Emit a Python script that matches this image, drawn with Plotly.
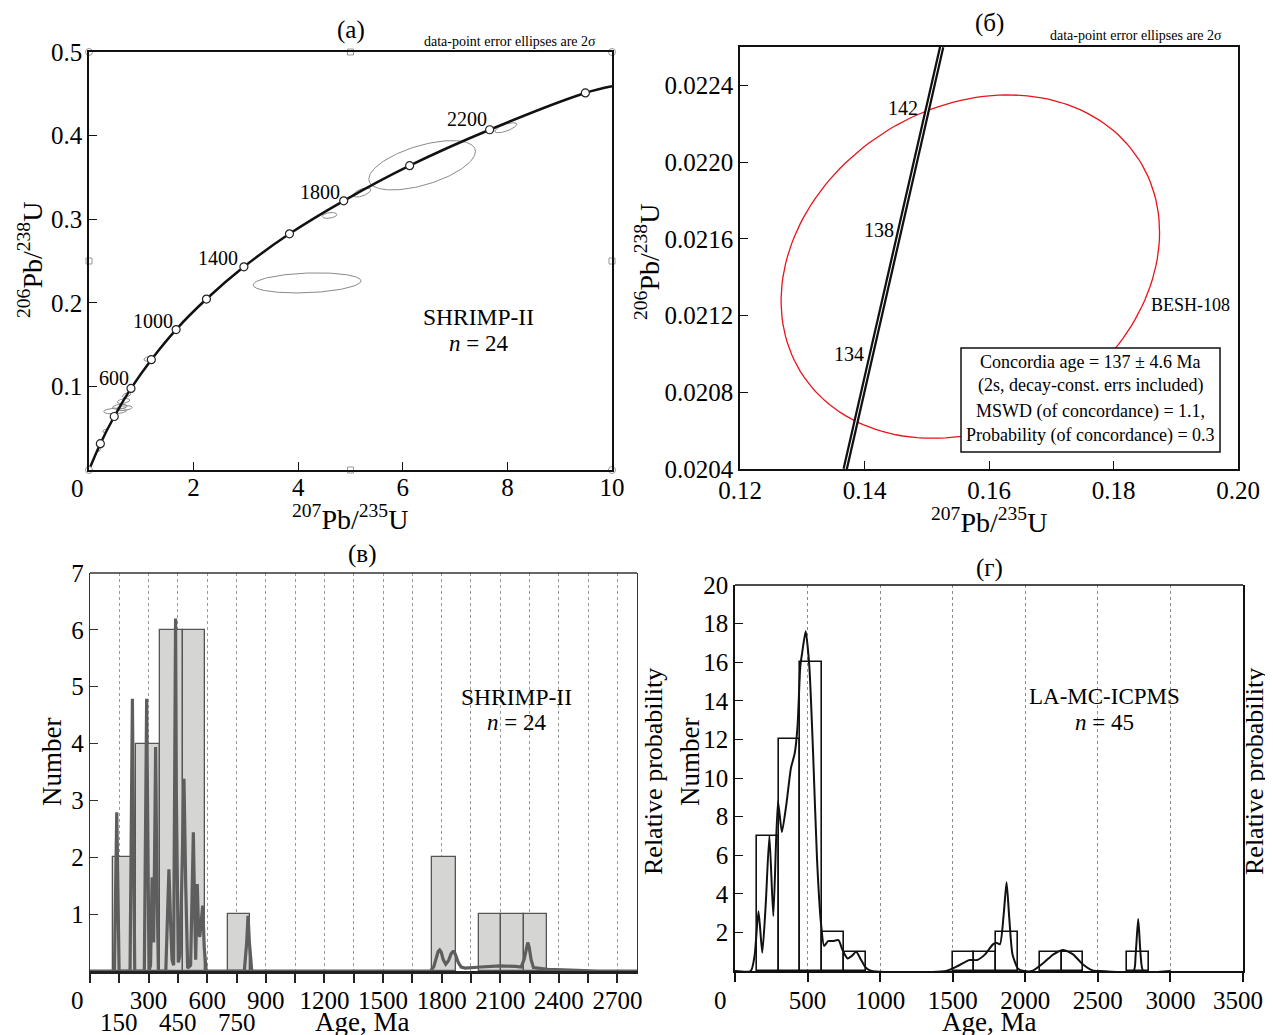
import numpy as np
import plotly.graph_objects as go

FONT = "Liberation Serif"
PAGE_OFF = 8            # browser default body margin
W, H = 1273 - 2 * PAGE_OFF, 1035 - PAGE_OFF

# ---------------- Panel (a): concordia SHRIMP-II ----------------
conc_a_x = [0.0, 0.217, 0.483, 0.803, 1.192, 1.666, 2.246, 2.962, 3.833, 4.87, 6.13, 7.66, 9.49, 10.0]
conc_a_y = [0.0, 0.0315, 0.064, 0.0976, 0.132, 0.168, 0.2045, 0.243, 0.2825, 0.322, 0.364, 0.407, 0.451, 0.459]
mark_a_x = [0.217, 0.483, 0.803, 1.192, 1.666, 2.246, 2.962, 3.833, 4.87, 6.13, 7.66, 9.49]
mark_a_y = [0.0315, 0.064, 0.0976, 0.132, 0.168, 0.2045, 0.243, 0.2825, 0.322, 0.364, 0.407, 0.451]
age_lbl_a = ["600", "1000", "1400", "1800", "2200"]
age_lbl_a_x = [0.48, 1.22, 2.47, 4.42, 7.23]
age_lbl_a_y = [0.110, 0.178, 0.254, 0.333, 0.420]

# ellipses: centre x, 2s x, centre y, 2s y, rho
ell_a_cx = [6.37, 4.17, 7.97, 5.22, 4.60, 1.15, 0.50, 0.59, 0.66, 0.72, 0.675, 0.31, 0.20]
ell_a_sx = [1.02, 1.03, 0.21, 0.17, 0.14, 0.10, 0.22, 0.14, 0.12, 0.08, 0.15, 0.05, 0.03]
ell_a_cy = [0.3645, 0.2238, 0.4094, 0.332, 0.3045, 0.133, 0.0706, 0.0757, 0.0825, 0.0897, 0.074, 0.047, 0.025]
ell_a_sy = [0.0295, 0.012, 0.006, 0.0055, 0.0035, 0.003, 0.0035, 0.003, 0.003, 0.003, 0.003, 0.002, 0.003]
ell_a_rho = [0.56, 0.2, 0.7, 0.6, 0.3, 0.3, 0.2, 0.3, 0.4, 0.5, 0.3, 0.5, 0.7]

frame_circ_x = [0, 10, 0, 10]
frame_circ_y = [0, 0, 0.5, 0.5]
frame_sq_x = [5, 5, 0, 10]
frame_sq_y = [0, 0.5, 0.25, 0.25]

# ---------------- Panel (б): concordia BESH-108 ----------------
conc_b_x = [0.1369, 0.1411, 0.1456, 0.1501, 0.1524]
conc_b_y = [0.0204, 0.0210, 0.021638, 0.022272, 0.0226]
age_lbl_b = ["142", "138", "134"]
age_lbl_b_x = [0.1462, 0.1424, 0.1375]
age_lbl_b_y = [0.022283, 0.021646, 0.0210]
ell_b = dict(cx=0.157, sx=0.0304, cy=0.021455, sy=0.000895, rho=0.2)
box_lines = ["Concordia age = 137 \u00b1 4.6 Ma",
             "(2s, decay-const. errs included)",
             "MSWD (of concordance) = 1.1,",
             "Probability (of concordance) = 0.3"]

# ---------------- Panel (в): histogram SHRIMP-II ----------------
hist_c_left = [119, 237, 356, 475, 706, 1753, 1990, 2104, 2221]
hist_c_right = [237, 356, 475, 589, 818, 1871, 2104, 2221, 2340]
hist_c_count = [2, 4, 6, 6, 1, 2, 1, 1, 1]
prob_c_x = [0, 125, 131, 137, 143, 149, 205, 211, 217, 223, 229, 278, 284, 290, 296, 302, 310, 318,
            326, 331, 336, 341, 350, 388, 396, 404, 412, 420, 428, 434, 438, 442, 452, 462, 472, 481,
            490, 500, 515, 522, 529, 536, 541, 549, 556, 562, 570, 577, 585, 595, 790, 802, 809, 816,
            828, 1744, 1760, 1772, 1782, 1790, 1798, 1808, 1821, 1835, 1848, 1858, 1864, 1872, 1885,
            1900, 1920, 2000, 2100, 2180, 2207, 2222, 2234, 2241, 2248, 2258, 2270, 2300, 2344, 2420,
            2481, 2600, 2800]
prob_c_y = [0, 0, 1.4, 2.79, 1.4, 0, 0, 2.4, 4.79, 2.4, 0, 0, 2.4, 4.79, 2.4, 0, 0.1, 1.65,
            0.5, 2.0, 3.94, 2.0, 0, 0, 0.9, 1.79, 0.9, 0.2, 0.1, 3.1, 6.2, 3.1, 0.15, 0.3, 1.7, 3.38,
            1.5, 0.05, 0.1, 1.2, 2.44, 1.0, 0.2, 1.53, 0.7, 0.6, 0.9, 1.15, 0.4, 0, 0, 0.5, 0.97, 0.5,
            0, 0, 0.08, 0.22, 0.34, 0.37, 0.33, 0.2, 0.12, 0.18, 0.3, 0.34, 0.34, 0.28, 0.15,
            0.07, 0.05, 0.07, 0.09, 0.08, 0.07, 0.2, 0.42, 0.5, 0.42, 0.2, 0.06, 0.05, 0.03, 0.02,
            0.01, 0.0, 0.0]
ticks_c = list(range(0, 2701, 150))
ticktext_c = ["", "", "300", "", "600", "", "900", "", "1200", "", "1500", "", "1800", "",
              "2100", "", "2400", "", "2700"]
lower_lbl_c = ["150", "450", "750"]
lower_lbl_c_x = [150, 450, 750]

# ---------------- Panel (г): histogram LA-MC-ICPMS ----------------
hist_d_left = [150, 300, 450, 600, 750, 1500, 1650, 1800, 2100, 2250, 2700]
hist_d_right = [300, 450, 600, 750, 900, 1650, 1800, 1950, 2250, 2400, 2850]
hist_d_count = [7, 12, 16, 2, 1, 1, 1, 2, 1, 1, 1]
prob_d_x = [0, 108, 135, 162, 188, 212, 237, 264, 296, 323, 355, 385, 412, 431, 450, 463, 487, 512,
            538, 565, 592, 614, 641, 673, 713, 740, 775, 808, 835, 867, 902, 942, 1454, 1535, 1615,
            1669, 1723, 1777, 1799, 1825, 1852, 1871, 1890, 1912, 1952, 1992, 2046, 2127, 2194,
            2261, 2329, 2396, 2464, 2520, 2746, 2760, 2778, 2795, 2813, 3000]
prob_d_y = [0, 0, 0.8, 3.1, 0.95, 3.5, 7.0, 2.85, 8.8, 7.2, 8.7, 10.5, 11.3, 12.7, 15.8, 16.5, 17.6, 15.8,
            11.3, 5.8, 2.5, 1.3, 1.55, 1.55, 1.6, 1.1, 0.65, 0.8, 1.0, 0.6, 0.17, 0, 0, 0.26, 0.57,
            0.57, 0.86, 1.38, 1.47, 1.38, 3.0, 4.6, 2.7, 0.86, 0.1, 0, 0, 0.43, 0.86,
            1.09, 0.86, 0.35, 0.03, 0, 0, 0.8, 2.7, 0.8, 0, 0]
ticks_d = [0, 500, 1000, 1500, 2000, 2500, 3000, 3500]
ticktext_d = ["", "500", "1000", "1500", "2000", "2500", "3000", ""]


def ellipse(cx, sx, cy, sy, rho, n=160):
    t = np.linspace(0, 2 * np.pi, n)
    x = cx + sx * np.cos(t)
    y = cy + sy * (rho * np.cos(t) + np.sqrt(1 - rho ** 2) * np.sin(t))
    return x, y


def px_x(p):
    return (p - PAGE_OFF) / W


def px_y(p):
    return 1 - (p - PAGE_OFF) / H


fig = go.Figure()

# ---- panel a traces
for cx, sx, cy, sy, r in zip(ell_a_cx, ell_a_sx, ell_a_cy, ell_a_sy, ell_a_rho):
    ex, ey = ellipse(cx, sx, cy, sy, r)
    fig.add_trace(go.Scatter(x=ex, y=ey, mode="lines", line=dict(color="#8a8a8a", width=1),
                             xaxis="x", yaxis="y", hoverinfo="skip"))
fig.add_trace(go.Scatter(x=conc_a_x, y=conc_a_y, mode="lines",
                         line=dict(color="#111", width=2.5, shape="spline", smoothing=1.0),
                         xaxis="x", yaxis="y"))
fig.add_trace(go.Scatter(x=mark_a_x, y=mark_a_y, mode="markers",
                         marker=dict(size=8, color="white", line=dict(color="#222", width=1.2)),
                         xaxis="x", yaxis="y"))
fig.add_trace(go.Scatter(x=frame_circ_x, y=frame_circ_y, mode="markers", cliponaxis=False,
                         marker=dict(size=7, color="white", line=dict(color="#999", width=1)),
                         xaxis="x", yaxis="y"))
fig.add_trace(go.Scatter(x=frame_sq_x, y=frame_sq_y, mode="markers", cliponaxis=False,
                         marker=dict(size=6, symbol="square", color="white", line=dict(color="#999", width=1)),
                         xaxis="x", yaxis="y"))

# ---- panel б traces
ex, ey = ellipse(**ell_b)
fig.add_trace(go.Scatter(x=ex, y=ey, mode="lines", line=dict(color="#e8141c", width=1.3),
                         xaxis="x2", yaxis="y2"))
fig.add_trace(go.Scatter(x=conc_b_x, y=conc_b_y, mode="lines", line=dict(color="#111", width=5.5),
                         xaxis="x2", yaxis="y2"))
fig.add_trace(go.Scatter(x=conc_b_x, y=conc_b_y, mode="lines", line=dict(color="white", width=1.0),
                         xaxis="x2", yaxis="y2"))

# ---- panel в traces
cen_c = [(l + r) / 2 for l, r in zip(hist_c_left, hist_c_right)]
wid_c = [r - l for l, r in zip(hist_c_left, hist_c_right)]
fig.add_trace(go.Bar(x=cen_c, y=hist_c_count, width=wid_c,
                     marker=dict(color="#d5d5d3", line=dict(color="#555", width=1.3)),
                     xaxis="x3", yaxis="y3"))
fig.add_trace(go.Scatter(x=prob_c_x, y=prob_c_y, mode="lines",
                         line=dict(color="#5e5e5e", width=3.2),
                         xaxis="x3", yaxis="y3"))

# ---- panel г traces
cen_d = [(l + r) / 2 for l, r in zip(hist_d_left, hist_d_right)]
wid_d = [r - l for l, r in zip(hist_d_left, hist_d_right)]
fig.add_trace(go.Bar(x=cen_d, y=hist_d_count, width=wid_d,
                     marker=dict(color="rgba(0,0,0,0)", line=dict(color="#111", width=1.6)),
                     xaxis="x4", yaxis="y4"))
fig.add_trace(go.Scatter(x=prob_d_x, y=prob_d_y, mode="lines",
                         line=dict(color="#111", width=2, shape="spline", smoothing=0.6),
                         xaxis="x4", yaxis="y4"))

tickfont = dict(family=FONT, size=25, color="black")

dom_a_x = [px_x(89), px_x(612)]
dom_a_y = [px_y(470), px_y(52)]
dom_b_x = [px_x(740), px_x(1238)]
dom_b_y = [px_y(469), px_y(47)]
dom_c_x = [px_x(90), px_x(637)]
dom_c_y = [px_y(971), px_y(573)]
dom_d_x = [px_x(735), px_x(1243)]
dom_d_y = [px_y(971), px_y(585)]

common_frame = dict(showline=True, linecolor="#111", linewidth=1.5, mirror=True, automargin=False,
                    showgrid=False, zeroline=False, tickfont=tickfont, tickcolor="#111")

layout = dict(
    width=W, height=H, margin=dict(l=0, r=0, t=0, b=0, autoexpand=False),
    paper_bgcolor="white", plot_bgcolor="white", showlegend=False, bargap=0,
    xaxis=dict(domain=dom_a_x, anchor="y", range=[0, 10], tickvals=[2, 4, 6, 8, 10],
               ticks="inside", ticklen=8, **common_frame),
    yaxis=dict(domain=dom_a_y, anchor="x", range=[0, 0.5], tickvals=[0.1, 0.2, 0.3, 0.4, 0.5],
               ticktext=["0.1", "0.2", "0.3", "0.4", "0.5"], ticks="inside", ticklen=8, **common_frame),
    xaxis2=dict(domain=dom_b_x, anchor="y2", range=[0.12, 0.20],
                tickvals=[0.12, 0.14, 0.16, 0.18, 0.20], ticktext=["0.12", "0.14", "0.16", "0.18", "0.20"],
                ticks="inside", ticklen=8, **common_frame),
    yaxis2=dict(domain=dom_b_y, anchor="x2", range=[0.0204, 0.0226],
                tickvals=[0.0204, 0.0208, 0.0212, 0.0216, 0.0220, 0.0224],
                ticktext=["0.0204", "0.0208", "0.0212", "0.0216", "0.0220", "0.0224"],
                ticks="inside", ticklen=8, **common_frame),
    xaxis3=dict(domain=dom_c_x, anchor="y3", range=[0, 2800], tickvals=ticks_c, ticktext=ticktext_c,
                ticks="outside", ticklen=9, tickwidth=1.5, tickcolor="#222", automargin=False,
                showline=True, linecolor="#222", linewidth=2.6, mirror=False,
                showgrid=True, gridcolor="#9a9a9a", griddash="dot", gridwidth=1,
                zeroline=False, tickfont=tickfont),
    yaxis3=dict(domain=dom_c_y, anchor="x3", range=[0, 7], tickvals=[1, 2, 3, 4, 5, 6, 7],
                ticks="inside", ticklen=8, tickcolor="#333", automargin=False,
                showline=True, linecolor="#333", linewidth=1.3, mirror=True,
                showgrid=False, zeroline=False, tickfont=tickfont),
    xaxis4=dict(domain=dom_d_x, anchor="y4", range=[0, 3500],
                tickvals=ticks_d, ticktext=ticktext_d,
                ticks="outside", ticklen=9, tickwidth=1.5, tickcolor="#111", automargin=False,
                showline=True, linecolor="#111", linewidth=2.2, mirror=False,
                showgrid=True, gridcolor="#8a8a8a", griddash="dot", gridwidth=1,
                zeroline=False, tickfont=tickfont),
    yaxis4=dict(domain=dom_d_y, anchor="x4", range=[0, 20], tickvals=list(range(2, 21, 2)),
                ticks="inside", ticklen=8, tickcolor="#111", automargin=False,
                showline=True, linecolor="#111", linewidth=1.5, mirror=True,
                showgrid=False, zeroline=False, tickfont=tickfont),
)
fig.update_layout(**layout)

# nudge x tick labels closer to the axes (as in the reference)
for ax, off in (("xaxis", -6), ("xaxis2", -2), ("xaxis3", -4), ("xaxis4", -3)):
    try:
        fig.layout[ax].ticklabelstandoff = off
    except Exception:
        pass

shapes = [
    dict(type="line", xref="x3 domain", yref="y3 domain", x0=0, x1=1, y0=1, y1=1,
         line=dict(color="#333", width=1.3)),
    dict(type="line", xref="x4 domain", yref="y4 domain", x0=0, x1=1, y0=1, y1=1,
         line=dict(color="#111", width=1.5)),
    dict(type="rect", xref="x2 domain", yref="y2 domain", x0=0.4438, x1=0.9639, y0=0.0403, y1=0.2867,
         fillcolor="white", line=dict(color="#111", width=1.5), layer="above"),
]
fig.update_layout(shapes=shapes)

ann = []


def A(text, x, y, xref="paper", yref="paper", size=20, **kw):
    d = dict(text=text, x=x, y=y, xref=xref, yref=yref, showarrow=False,
             xanchor="center", yanchor="middle",
             font=dict(family=FONT, size=size, color="black"))
    d.update(kw)
    ann.append(d)


# panel a
A("(a)", px_x(351), px_y(30), size=25)
A("data-point error ellipses are 2\u03c3", px_x(510), px_y(41), size=14)
A("<sup>206</sup>Pb/<sup>238</sup>U", px_x(30), px_y(260), size=28, textangle=-90)
A("<sup>207</sup>Pb/<sup>235</sup>U", px_x(350), px_y(518), size=28)
A("0", px_x(77), px_y(488), size=25)
for t, x, y in zip(age_lbl_a, age_lbl_a_x, age_lbl_a_y):
    A(t, x, y, xref="x", yref="y", size=20)
A("SHRIMP-II", px_x(478), px_y(317), size=23.5)
A("<i>n</i> = 24", px_x(478), px_y(343), size=23)

# panel б
A("(\u0431)", px_x(989), px_y(23), size=25)
A("data-point error ellipses are 2\u03c3", px_x(1136), px_y(35), size=14)
A("<sup>206</sup>Pb/<sup>238</sup>U", px_x(648), px_y(262), size=28, textangle=-90)
A("<sup>207</sup>Pb/<sup>235</sup>U", px_x(989), px_y(520), size=28)
for t, x, y in zip(age_lbl_b, age_lbl_b_x, age_lbl_b_y):
    A(t, x, y, xref="x2", yref="y2", size=20)
A("BESH-108", 0.1923, 0.021255, xref="x2", yref="y2", size=18)
for t, yy in zip(box_lines, [0.2536, 0.1967, 0.1374, 0.0782]):
    A(t, 0.7038, yy, xref="x2 domain", yref="y2 domain", size=18)

# panel в
A("(\u0432)", px_x(362), px_y(554), size=25)
A("Number", px_x(52), px_y(762), size=27, textangle=-90)
A("Relative probability", px_x(653), px_y(772), size=26, textangle=-90)
A("Age, Ma", px_x(362), px_y(1022), size=27)
A("0", px_x(77), px_y(1000), size=25)
for t, x in zip(lower_lbl_c, lower_lbl_c_x):
    A(t, x, px_y(1022), xref="x3", size=25)
A("SHRIMP-II", px_x(516), px_y(697), size=23.5)
A("<i>n</i> = 24", px_x(516), px_y(722), size=23)

# panel г
A("(\u0433)", px_x(989), px_y(568), size=25)
A("Number", px_x(690), px_y(762), size=27, textangle=-90)
A("Relative probability", px_x(1254), px_y(772), size=26, textangle=-90)
A("Age, Ma", px_x(989), px_y(1022), size=27)
A("0", px_x(720), px_y(1000), size=25)
A("3500", px_x(1238), px_y(1000), size=25)
A("LA-MC-ICPMS", px_x(1104), px_y(696), size=23)
A("<i>n</i> = 45", px_x(1104), px_y(722), size=23)

fig.update_layout(annotations=ann)
fig.write_html("out.html")
